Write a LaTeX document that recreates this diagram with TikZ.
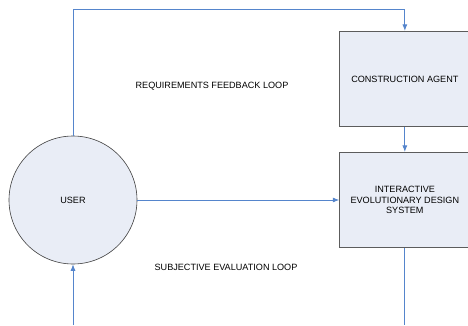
\documentclass[tikz,border=0pt]{standalone}
\usepackage{fontspec}
\setmainfont{Liberation Sans}
\usetikzlibrary{positioning,arrows.meta}

\definecolor{boxfill}{HTML}{E9EDF6}
\definecolor{boxline}{HTML}{5C5C5C}
\definecolor{loopline}{HTML}{5585CC}

\begin{document}
\begin{tikzpicture}[
        font=\fontsize{9.1}{10.7}\selectfont,
        actor/.style={circle, minimum size=128pt, inner sep=0pt, draw=black!75, line width=0.6pt, fill=boxfill, align=center},
        stagebox/.style={rectangle, minimum width=130pt, minimum height=95pt, inner sep=2pt, draw=boxline, line width=1.1pt, fill=boxfill, align=center},
        arrow/.style={line width=0.8pt, -{Latex[length=6.5pt,width=5pt]}, color=loopline},
        link/.style={line width=0.8pt, color=loopline}
    ]

        \useasboundingbox (-73pt,-125pt) rectangle (395pt,200pt);

        % --- User ---
        \node (user) [actor] at (0,0) {USER};

        % --- Design system and agent ---
        \node (ieds) [stagebox, right=202pt of user.east, anchor=west] {INTERACTIVE\\EVOLUTIONARY DESIGN\\SYSTEM};
        \node (agent) [stagebox, above=25pt of ieds] {CONSTRUCTION AGENT};

        % --- Loop labels ---
        \node (reqlabel) at ([xshift=139pt,yshift=114pt]user.center) {REQUIREMENTS FEEDBACK LOOP};
        \node (evallabel) at ([xshift=153pt,yshift=-67pt]user.center) {SUBJECTIVE EVALUATION LOOP};

        % --- Loose ends ---
        \coordinate (toploop) at ([yshift=21pt]agent.north);
        \coordinate (userin) at (user.south |- 0,-125pt);
        \coordinate (iedsout) at (ieds.south |- 0,-125pt);

        % --- Connections ---
        \draw [arrow] (user.north) |- (toploop) -- (agent.north);
        \draw [arrow] (agent) -- (ieds);
        \draw [arrow] (user) -- (ieds);
        \draw [arrow] (userin) -- (user.south);
        \draw [link] (ieds.south) -- (iedsout);

    \end{tikzpicture}
\end{document}
